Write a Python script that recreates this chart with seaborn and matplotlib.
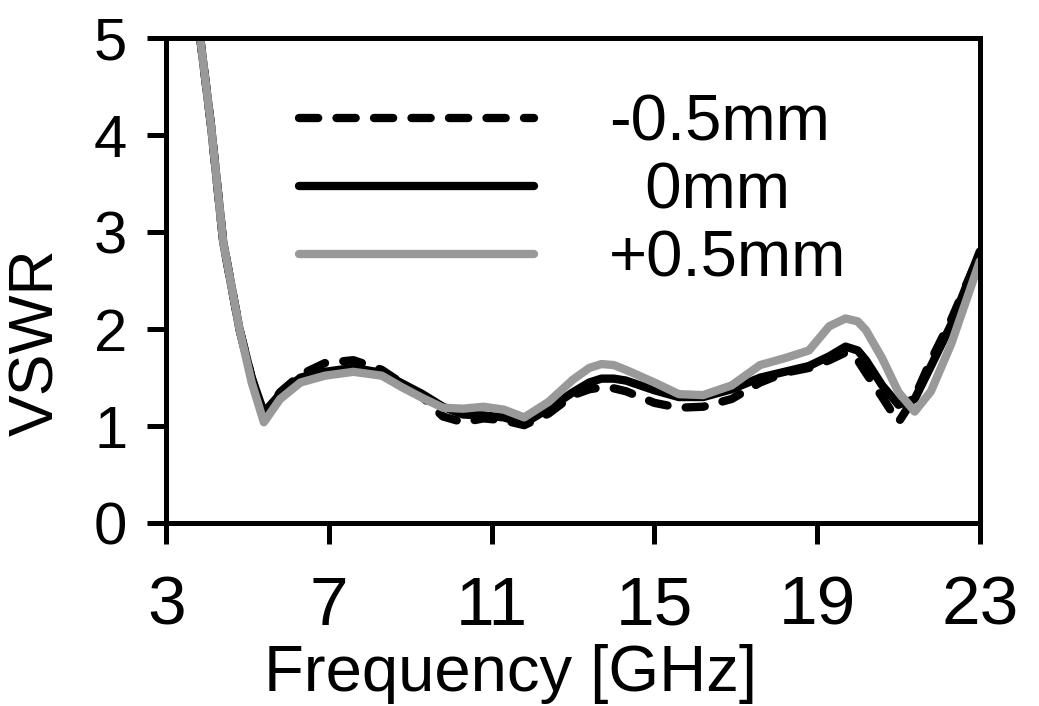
import numpy as np
import pandas as pd
import matplotlib
matplotlib.use('Agg')
import matplotlib.pyplot as plt
import seaborn as sns

# VSWR vs frequency for three offsets
freq = [3.82, 4.1, 4.4, 4.8, 5.1, 5.4, 5.8, 6.3, 6.9, 7.6, 8.3, 8.8, 9.3, 9.8,
        10.3, 10.8, 11.3, 11.8, 12.4, 13.0, 13.4, 13.7, 14.0, 14.3, 15.0, 15.6, 16.2, 16.9,
        17.6, 18.2, 18.8, 19.3, 19.7, 20.0, 20.2, 20.6, 21.0, 21.4, 21.8, 22.3, 23.0]

vswr_minus = [5.05, 4.1, 2.9, 2.0, 1.5, 1.12, 1.35, 1.53, 1.65, 1.68, 1.58, 1.44, 1.30, 1.10,
              1.04, 1.08, 1.06, 1.01, 1.13, 1.32, 1.38, 1.40, 1.39, 1.36, 1.24, 1.19, 1.20, 1.28,
              1.45, 1.55, 1.60, 1.68, 1.76, 1.68, 1.55, 1.30, 1.04, 1.30, 1.68, 2.10, 2.78]

vswr_zero = [5.05, 4.1, 2.9, 2.0, 1.5, 1.14, 1.33, 1.50, 1.56, 1.60, 1.55, 1.44, 1.33, 1.20,
             1.12, 1.11, 1.09, 1.03, 1.18, 1.35, 1.45, 1.49, 1.49, 1.47, 1.37, 1.30, 1.30, 1.38,
             1.50, 1.56, 1.62, 1.72, 1.82, 1.78, 1.68, 1.42, 1.22, 1.28, 1.62, 2.05, 2.80]

vswr_plus = [5.05, 4.1, 2.9, 2.0, 1.45, 1.04, 1.28, 1.45, 1.52, 1.56, 1.52, 1.40, 1.29, 1.19,
             1.18, 1.20, 1.17, 1.09, 1.25, 1.48, 1.60, 1.64, 1.63, 1.58, 1.45, 1.33, 1.32, 1.42,
             1.63, 1.70, 1.78, 2.03, 2.11, 2.08, 1.99, 1.70, 1.35, 1.15, 1.36, 1.85, 2.70]

labels = ['-0.5mm', '  0mm', '+0.5mm']
xticks = [3, 7, 11, 15, 19, 23]
yticks = [0, 1, 2, 3, 4, 5]

sns.set_style('ticks')
plt.rcParams['font.family'] = ['Liberation Sans', 'DejaVu Sans']
plt.rcParams['text.color'] = 'black'
plt.rcParams['axes.labelcolor'] = 'black'
plt.rcParams['xtick.color'] = 'black'
plt.rcParams['ytick.color'] = 'black'

fig = plt.figure(figsize=(10.39, 7.06), dpi=100)
ax = fig.add_axes([0.160, 0.259, 0.783, 0.687])

lw = 6
sns.lineplot(x=freq, y=vswr_minus, ax=ax, color='black', lw=lw,
             linestyle=(0, (2.3, 2.2)), dash_capstyle='round', label=labels[0])
sns.lineplot(x=freq, y=vswr_zero, ax=ax, color='black', lw=lw,
             solid_capstyle='round', label=labels[1])
sns.lineplot(x=freq, y=vswr_plus, ax=ax, color='#999999', lw=lw,
             solid_capstyle='round', label=labels[2])

ax.set_xlim(3, 23)
ax.set_ylim(0, 5)
ax.set_xticks(xticks)
ax.set_yticks(yticks)

for s in ax.spines.values():
    s.set_linewidth(3.6)
    s.set_color('black')

ax.tick_params(axis='x', direction='out', length=15, width=3.6, labelsize=50, pad=22)
ax.tick_params(axis='y', direction='out', length=14, width=3.6, labelsize=43, pad=14)

ax.set_xlabel('Frequency [GHz]', fontsize=47, labelpad=4, x=0.423)
ax.set_ylabel('VSWR', fontsize=45, labelpad=20, y=0.373)

leg = ax.legend(loc='upper left', bbox_to_anchor=(0.163, 0.885), frameon=False,
                fontsize=47, handlelength=3.6, handletextpad=1.15, labelspacing=0.12,
                borderpad=0, borderaxespad=0)

plt.savefig('out.png', dpi=100)
plt.close()
